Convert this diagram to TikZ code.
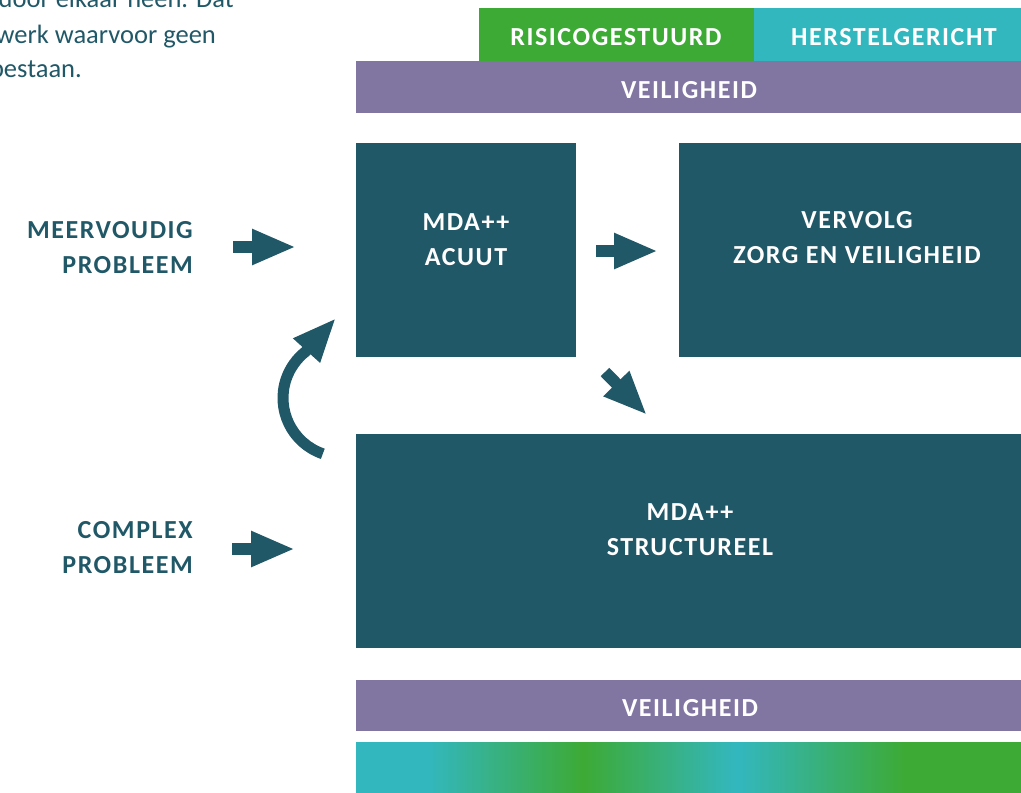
\documentclass[tikz,border=0pt]{standalone}
\usepackage{fontspec}
\setmainfont{Carlito}
\newfontfamily\hd[LetterSpace=6]{Carlito}
\usetikzlibrary{arrows.meta}
\definecolor{dteal}{HTML}{215868}
\definecolor{cgreen}{HTML}{3DAA35}
\definecolor{cteal}{HTML}{33B7BF}
\definecolor{cpurple}{HTML}{8175A2}
\pgfdeclarehorizontalshading{barshade}{100bp}{color(0bp)=(cteal); color(30.3bp)=(cteal); color(42.1bp)=(cgreen); color(53.6bp)=(cteal); color(66.3bp)=(cgreen); color(100bp)=(cgreen)}
\tikzset{
  box/.style={fill=dteal, draw=none, inner sep=0pt, anchor=north west},
  band/.style={draw=none, inner sep=0pt, anchor=north west},
  wtxt/.style={text=white, font=\hd\bfseries\fontsize{26}{35}\selectfont, align=center, inner sep=0pt, anchor=base},
  ltxt/.style={text=dteal, font=\hd\bfseries\fontsize{26}{35}\selectfont, align=right, inner sep=0pt, anchor=base east},
  ptxt/.style={text=dteal, font=\fontsize{26.5}{34}\selectfont, inner sep=0pt, anchor=base east},
  blockarrow/.style={draw=dteal, line width=12pt, -{Triangle[length=44pt,width=33pt]}}
}
\begin{document}
\begin{tikzpicture}[x=1pt,y=-1pt]
\useasboundingbox (0,0) rectangle (1021,793);
\clip (0,0) rectangle (1021,793);
% paragraph fragment
\node[ptxt] (p1) at (234,7) {door elkaar heen. Dat};
\node[ptxt] (p2) at (216,43) {werk waarvoor geen};
\node[ptxt] (p3) at (82,77) {bestaan.};
% top bands
\node[band, fill=cgreen, minimum width=275pt, minimum height=53pt] (risico) at (479,8) {};
\node[band, fill=cteal, minimum width=267pt, minimum height=53pt] (herstel) at (754,8) {};
\node[wtxt] (risicoT) at (616,45) {RISICOGESTUURD};
\node[wtxt] (herstelT) at (894,45) {HERSTELGERICHT};
\node[band, fill=cpurple, minimum width=665pt, minimum height=52pt] (veil1) at (356,61) {};
\node[wtxt] (veil1T) at (689,98) {VEILIGHEID};
% main boxes
\node[box, minimum width=220pt, minimum height=214pt] (acuut) at (356,143) {};
\node[wtxt] (acuutT) at (466,265) {MDA++\\ACUUT};
\node[box, minimum width=342pt, minimum height=214pt] (vervolg) at (679,143) {};
\node[wtxt] (vervolgT) at (857,263) {VERVOLG\\ZORG EN VEILIGHEID};
\node[box, minimum width=665pt, minimum height=214pt] (struct) at (356,434) {};
\node[wtxt] (structT) at (690,555) {MDA++\\STRUCTUREEL};
% bottom bands
\node[band, fill=cpurple, minimum width=665pt, minimum height=51pt] (veil2) at (356,680) {};
\node[wtxt] (veil2T) at (690,716) {VEILIGHEID};
\path[shading=barshade] (356,742) rectangle (1021,793);
\node[band, minimum width=665pt, minimum height=51pt] (grad) at (356,742) {};
% left labels
\node[ltxt] (meerv) at (193,273) {MEERVOUDIG\\PROBLEEM};
\node[ltxt] (compl) at (193,573) {COMPLEX\\PROBLEEM};
% arrows
\coordinate (a1s) at (233,247); \coordinate (a1e) at (296,247);
\coordinate (a2s) at (596,251); \coordinate (a2e) at (658,251);
\coordinate (a3s) at (232,549); \coordinate (a3e) at (295,549);
\coordinate (a4s) at (605,372); \coordinate (a4e) at (647,415);
\coordinate (a5s) at (322.8,453.8); \coordinate (a5e) at (336,318);
\draw[blockarrow] (a1s) -- (a1e);
\draw[blockarrow] (a2s) -- (a2e);
\draw[blockarrow] (a3s) -- (a3e);
\draw[blockarrow] (a4s) -- (a4e);
\draw[blockarrow, line width=11pt] (a5s) arc[start angle=109, end angle=232, radius=59] -- (a5e);
\end{tikzpicture}
\end{document}
